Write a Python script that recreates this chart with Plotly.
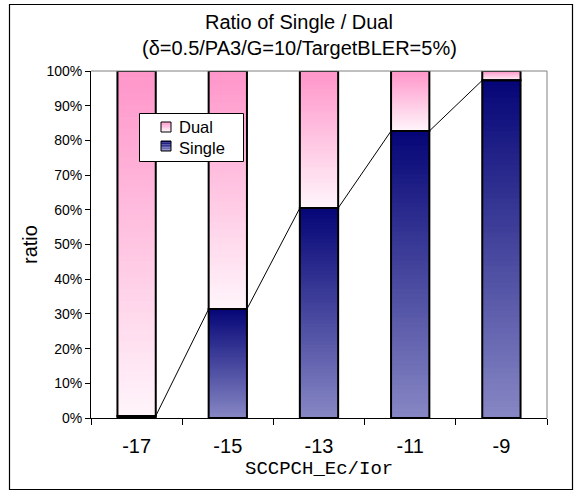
import plotly.graph_objects as go
import numpy as np

# ---------------- data ----------------
categories = ["-17", "-15", "-13", "-11", "-9"]
single = [0.6, 31.4, 60.5, 82.7, 97.3]
dual = [99.4, 68.6, 39.5, 17.3, 2.7]
y_ticks = list(range(0, 101, 10))
y_tick_labels = [f"{v}%" for v in y_ticks]

title_line1 = "Ratio of Single / Dual"
title_line2 = "(δ=0.5/PA3/G=10/TargetBLER=5%)"
x_title = "SCCPCH_Ec/Ior"
y_title = "ratio"
legend_names = ["Dual", "Single"]

# ---------------- geometry helpers ----------------
W, H = 578, 493
L, R, T, B = 91, 547, 71, 418      # plot area in pixels
def px(x):
    return (x - L) / (R - L)
def py(y):
    return (B - y) / (B - T)

BAR_W = 0.42
N = 60
x = np.arange(len(categories))

def lerp(c0, c1, t):
    return "rgb(%d,%d,%d)" % tuple(round(a + (b - a) * t) for a, b in zip(c0, c1))

SINGLE_BOT, SINGLE_TOP = (0x86, 0x86, 0xC4), (0x06, 0x06, 0x78)
DUAL_BOT, DUAL_TOP = (0xFF, 0xF4, 0xFA), (0xFF, 0x96, 0xCA)

fig = go.Figure()

single_arr = np.array(single, dtype=float)
dual_arr = np.array(dual, dtype=float)

# gradient slices for Single (each slice extends to segment top to avoid seams)
for k in range(N):
    t = k / (N - 1)
    base = single_arr * k / N
    fig.add_trace(go.Bar(x=x, y=single_arr - base, base=base, width=BAR_W,
                         marker=dict(color=lerp(SINGLE_BOT, SINGLE_TOP, t), line=dict(width=0)),
                         showlegend=False, hoverinfo="skip"))
# gradient slices for Dual
for k in range(N):
    t = k / (N - 1)
    base = single_arr + dual_arr * k / N
    fig.add_trace(go.Bar(x=x, y=single_arr + dual_arr - base, base=base, width=BAR_W,
                         marker=dict(color=lerp(DUAL_BOT, DUAL_TOP, t), line=dict(width=0)),
                         showlegend=False, hoverinfo="skip"))

# outlines
fig.add_trace(go.Bar(x=x, y=single_arr, base=np.zeros(len(x)), width=BAR_W, name="Single",
                     marker=dict(color="rgba(0,0,0,0)", line=dict(color="black", width=2)),
                     showlegend=False))
fig.add_trace(go.Bar(x=x, y=dual_arr, base=single_arr, width=BAR_W, name="Dual",
                     marker=dict(color="rgba(0,0,0,0)", line=dict(color="black", width=2)),
                     showlegend=False))

# series lines between tops of Single
lx, ly = [], []
for i in range(len(x) - 1):
    lx += [x[i] + BAR_W / 2, x[i + 1] - BAR_W / 2, None]
    ly += [single[i], single[i + 1], None]
fig.add_trace(go.Scatter(x=lx, y=ly, mode="lines", line=dict(color="black", width=1),
                         showlegend=False, hoverinfo="skip"))

shapes = []
# outer chart border
shapes.append(dict(type="rect", xref="paper", yref="paper",
                   x0=px(9.5), x1=px(572.5), y0=py(489.5), y1=py(4.5),
                   line=dict(color="black", width=1.2), fillcolor="rgba(0,0,0,0)", layer="above"))
# gray top/right plot border
shapes.append(dict(type="line", xref="paper", yref="paper", x0=0, x1=1, y0=1, y1=1,
                   line=dict(color="#808080", width=1)))
shapes.append(dict(type="line", xref="paper", yref="paper", x0=1, x1=1, y0=0, y1=1,
                   line=dict(color="#808080", width=1)))

# legend box
shapes.append(dict(type="rect", xref="paper", yref="paper",
                   x0=px(139.5), x1=px(243.5), y0=py(161.5), y1=py(113.5),
                   line=dict(color="black", width=1), fillcolor="white"))
def legend_square(y_top, c_bot, c_top):
    n = 6
    for k in range(n):
        t = k / (n - 1)
        y0 = y_top + 10 - 10 * (k + 1) / n
        y1 = y_top + 10 - 10 * k / n
        shapes.append(dict(type="rect", xref="paper", yref="paper",
                           x0=px(161), x1=px(171), y0=py(y1), y1=py(y0),
                           line=dict(width=0), fillcolor=lerp(c_bot, c_top, t)))
    shapes.append(dict(type="rect", xref="paper", yref="paper",
                       x0=px(161), x1=px(171), y0=py(y_top + 10), y1=py(y_top),
                       line=dict(color="black", width=1), fillcolor="rgba(0,0,0,0)"))
legend_square(122, DUAL_BOT, DUAL_TOP)
legend_square(141, SINGLE_BOT, SINGLE_TOP)

FONT = "Liberation Sans, Arial, sans-serif"
annotations = [
    dict(text=title_line1, x=px(299), y=py(22), xref="paper", yref="paper", showarrow=False,
         xanchor="center", yanchor="middle", font=dict(family=FONT, size=20, color="black")),
    dict(text=title_line2, x=px(299), y=py(48), xref="paper", yref="paper", showarrow=False,
         xanchor="center", yanchor="middle", font=dict(family=FONT, size=20, color="black")),
    dict(text=y_title, x=px(30), y=py(245), xref="paper", yref="paper", showarrow=False,
         textangle=-90, xanchor="center", yanchor="middle",
         font=dict(family=FONT, size=20, color="black")),
    dict(text=x_title, x=px(319), y=py(469), xref="paper", yref="paper", showarrow=False,
         xanchor="center", yanchor="middle",
         font=dict(family="Liberation Mono, DejaVu Sans Mono, monospace", size=19, color="black")),
    dict(text="<br>".join(legend_names), x=px(177), y=py(137), xref="paper", yref="paper",
         showarrow=False, align="left",
         xanchor="left", yanchor="middle", font=dict(family=FONT, size=16.5, color="black")),
]

fig.update_layout(
    width=W, height=H,
    margin=dict(l=L, r=W - R, t=T, b=H - B, pad=0),
    paper_bgcolor="white", plot_bgcolor="white",
    barmode="overlay",
    showlegend=False,
    hovermode=False,
    shapes=shapes,
    annotations=annotations,
    xaxis=dict(range=[-0.5, 4.5], tickvals=list(x), ticktext=categories, ticks="",
               ticklabelstandoff=10,
               showgrid=False, zeroline=False, showline=True, linecolor="black", linewidth=1,
               tickfont=dict(family=FONT, size=20, color="black"),
               minor=dict(ticks="outside", tickmode="linear", tick0=0.5, dtick=1,
                          ticklen=6, tickcolor="black", tickwidth=1, showgrid=False)),
    yaxis=dict(range=[0, 100], tickvals=y_ticks, ticktext=y_tick_labels, ticks="outside", ticklen=5,
               tickcolor="black", showgrid=False, zeroline=False, showline=True,
               linecolor="black", linewidth=1,
               tickfont=dict(family=FONT, size=14, color="black")),
)

fig.write_html("out.html", config={"displayModeBar": False},
               post_script="document.body.style.margin='0';document.body.style.overflow='hidden';")
